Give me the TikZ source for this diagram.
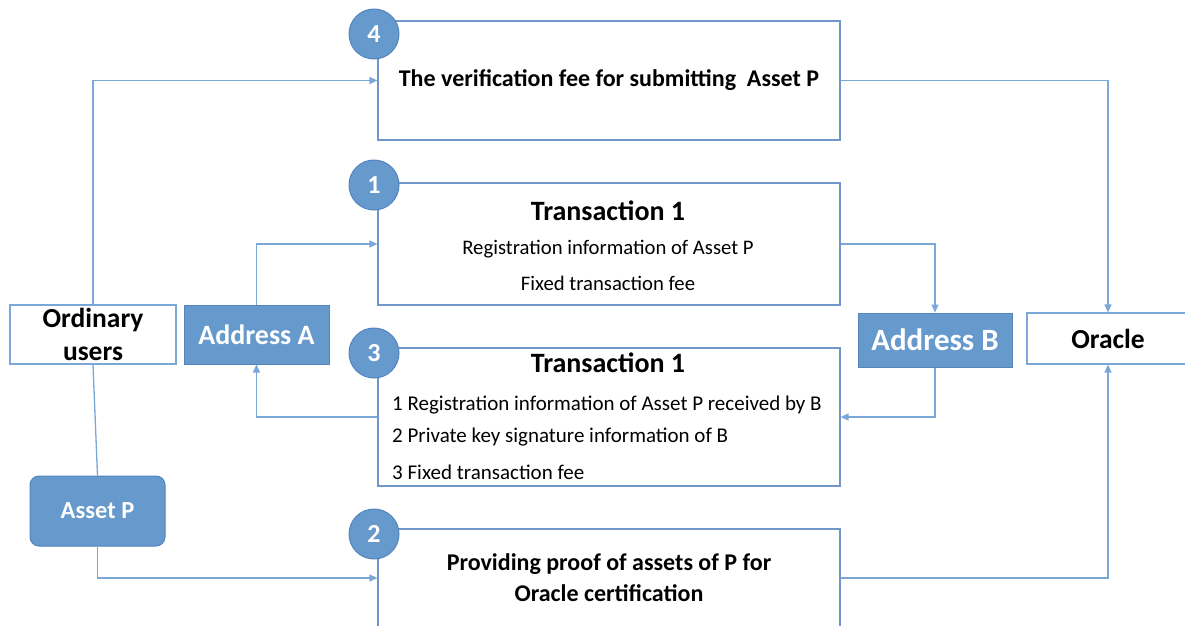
\documentclass[tikz,border=0pt]{standalone}
\usepackage{fontspec}
\setmainfont{Carlito}
\usetikzlibrary{arrows.meta}
\definecolor{fillblue}{RGB}{102,153,204}
\definecolor{ringblue}{RGB}{84,132,190}
\definecolor{wireblue}{RGB}{122,166,216}
\definecolor{edgeblue}{RGB}{112,150,204}
\tikzset{
  stepbox/.style={draw=edgeblue, line width=1.2pt, fill=white, inner sep=0pt},
  actor/.style={draw=wireblue, line width=1.2pt, fill=white, inner sep=0pt,
    font=\fontsize{27.5}{33}\selectfont\bfseries, align=center},
  addr/.style={draw=ringblue, line width=1pt, fill=fillblue, text=white, inner sep=0pt,
    font=\fontsize{28}{30}\selectfont\bfseries},
  badge/.style={circle, draw=ringblue, line width=1pt, fill=fillblue, text=white,
    minimum size=50pt, inner sep=0pt, font=\fontsize{26}{28}\selectfont\bfseries},
  conn/.style={draw=wireblue, line width=1.3pt,
    -{Triangle[length=8pt,width=7pt]}},
  plain/.style={draw=wireblue, line width=1.3pt},
  title/.style={inner sep=0pt, font=\fontsize{28}{30}\selectfont\bfseries},
  item/.style={inner sep=0pt, font=\fontsize{20.7}{22}\selectfont},
  listitem/.style={inner sep=0pt, anchor=west, font=\fontsize{21}{22}\selectfont},
}
\begin{document}
\begin{tikzpicture}[x=1pt, y=-1pt]
  \clip (0,0) rectangle (1185,625);
  \fill[white] (0,0) rectangle (1185,625);

  % step boxes
  \node[stepbox, minimum width=462pt, minimum height=119pt,
        font=\fontsize{24}{26}\selectfont\bfseries] (box4) at (609,80.5)
        {The verification fee for submitting\ \ Asset P};
  \node[stepbox, minimum width=462pt, minimum height=122pt] (box1) at (609,244) {};
  \node[stepbox, minimum width=462pt, minimum height=138pt] (box3) at (609,417) {};
  \node[stepbox, minimum width=462pt, minimum height=98pt, align=center,
        font=\fontsize{24}{31}\selectfont\bfseries] (box2) at (609,578)
        {Providing proof of assets of P for\\Oracle certification};

  % contents of the transaction boxes
  \node[title] (t1) at (608,211) {Transaction 1};
  \node[item] (t1a) at (608,249) {Registration information of Asset P};
  \node[item] (t1b) at (608,283) {Fixed transaction fee};
  \node[title] (t3) at (608,363) {Transaction 1};
  \node[listitem] (t3a) at (392,405) {1 Registration information of Asset P received by B};
  \node[listitem] (t3b) at (392,437) {2 Private key signature information of B};
  \node[listitem] (t3c) at (392,472) {3 Fixed transaction fee};

  % numbered badges
  \node[badge] (n4) at (374,34) {4};
  \node[badge] (n1) at (374,185) {1};
  \node[badge] (n3) at (374,353) {3};
  \node[badge] (n2) at (374,534) {2};

  % parties and addresses
  \node[actor, minimum width=166pt, minimum height=59pt] (users) at (93,334.5) {Ordinary\\users};
  \node[addr, minimum width=145pt, minimum height=59pt] (addrA) at (256.5,334.5) {Address A};
  \node[addr, minimum width=154pt, minimum height=54pt, font=\fontsize{31}{33}\selectfont\bfseries] (addrB) at (935,340) {Address B};
  \node[actor, minimum width=162pt, minimum height=51pt] (oracle) at (1108,338.5) {Oracle};
  \node[addr, rounded corners=9pt, minimum width=135pt, minimum height=70pt,
        font=\fontsize{24.5}{26}\selectfont\bfseries] (asset) at (97.5,511) {Asset P};

  % flows
  \draw[conn] (users.north) |- (box4.west);
  \draw[plain] (users.south) -- (asset.north);
  \draw[conn] (asset.south) |- (box2.west);
  \draw[conn] (addrA.north) |- (box1.west);
  \draw[conn] (box3.west) -| (addrA.south);
  \draw[conn] (box1.east) -| (addrB.north);
  \draw[conn] (addrB.south) |- (box3.east);
  \draw[conn] (box4.east) -| (oracle.north);
  \draw[conn] (box2.east) -| (oracle.south);
\end{tikzpicture}
\end{document}
